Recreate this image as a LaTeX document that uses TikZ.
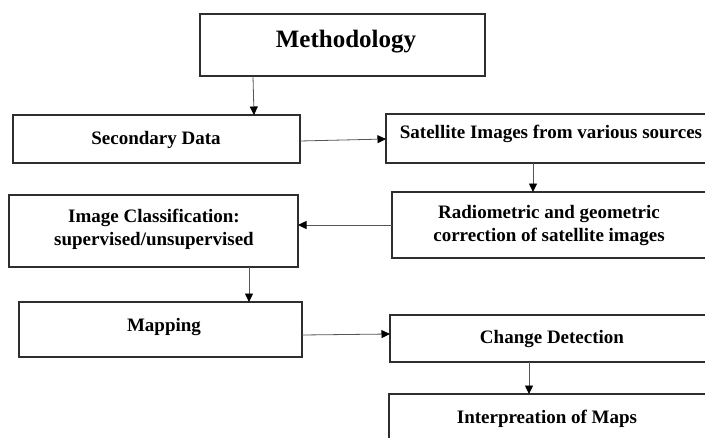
\documentclass[tikz,border=0pt]{standalone}
\usepackage{fontspec}
\setmainfont{Liberation Serif}
\usetikzlibrary{arrows.meta}
\definecolor{boxc}{HTML}{2E2E2E}
\definecolor{linec}{HTML}{555555}
\begin{document}
\begin{tikzpicture}[x=1pt,y=-1pt,
  box/.style={draw=boxc, line width=1.5pt, inner sep=0pt, outer sep=0pt, anchor=north west},
  lbl/.style={inner sep=0pt, anchor=base, font=\fontsize{19}{21}\selectfont\bfseries},
  title/.style={inner sep=0pt, anchor=base, font=\fontsize{25}{28}\selectfont\bfseries},
  arr/.style={draw=linec, line width=0.8pt, -{Triangle[length=8.5pt,width=8pt,color=black]}}]
\useasboundingbox (0,0) rectangle (705,437);
% boxes
\node[box, minimum width=285pt, minimum height=62pt] (meth) at (200,14) {};
\node[box, minimum width=287pt, minimum height=48pt] (sec) at (13,115) {};
\node[box, minimum width=326pt, minimum height=49pt] (sat) at (386,114) {};
\node[box, minimum width=289pt, minimum height=72pt] (imgc) at (9,195) {};
\node[box, minimum width=320pt, minimum height=66pt] (rad) at (392,192) {};
\node[box, minimum width=283pt, minimum height=55pt] (map) at (19,302) {};
\node[box, minimum width=322pt, minimum height=47pt] (chg) at (390,315) {};
\node[box, minimum width=323pt, minimum height=55pt] (interp) at (389,394) {};
% texts
\node[title] (methT) at (346,47) {Methodology};
\node[lbl] (secT) at (156,144) {Secondary Data};
\node[lbl] (satT) at (551,138) {Satellite Images from various sources};
\node[lbl] (imgcT1) at (154,222) {Image Classification:};
\node[lbl] (imgcT2) at (154,245) {supervised/unsupervised};
\node[lbl] (radT1) at (549,218) {Radiometric and geometric};
\node[lbl] (radT2) at (549,241) {correction of satellite images};
\node[lbl] (mapT) at (164,331) {Mapping};
\node[lbl] (chgT) at (552,343) {Change Detection};
\node[lbl] (interpT) at (547,423) {Interpreation of Maps};
% connectors
\draw[arr] ([xshift=53pt]meth.south west) -- ([xshift=241pt]sec.north west);
\draw[arr] ([yshift=-26pt]sec.north east) -- ([yshift=-25pt]sat.north west);
\draw[arr] ([xshift=147pt]sat.south west) -- ([xshift=141pt]rad.north west);
\draw[arr] ([yshift=-33pt]rad.north west) -- ([yshift=-30pt]imgc.north east);
\draw[arr] ([xshift=240pt]imgc.south west) -- ([xshift=230pt]map.north west);
\draw[arr] ([yshift=-33pt]map.north east) -- ([yshift=-19pt]chg.north west);
\draw[arr] ([xshift=139pt]chg.south west) -- ([xshift=140pt]interp.north west);
\end{tikzpicture}
\end{document}
